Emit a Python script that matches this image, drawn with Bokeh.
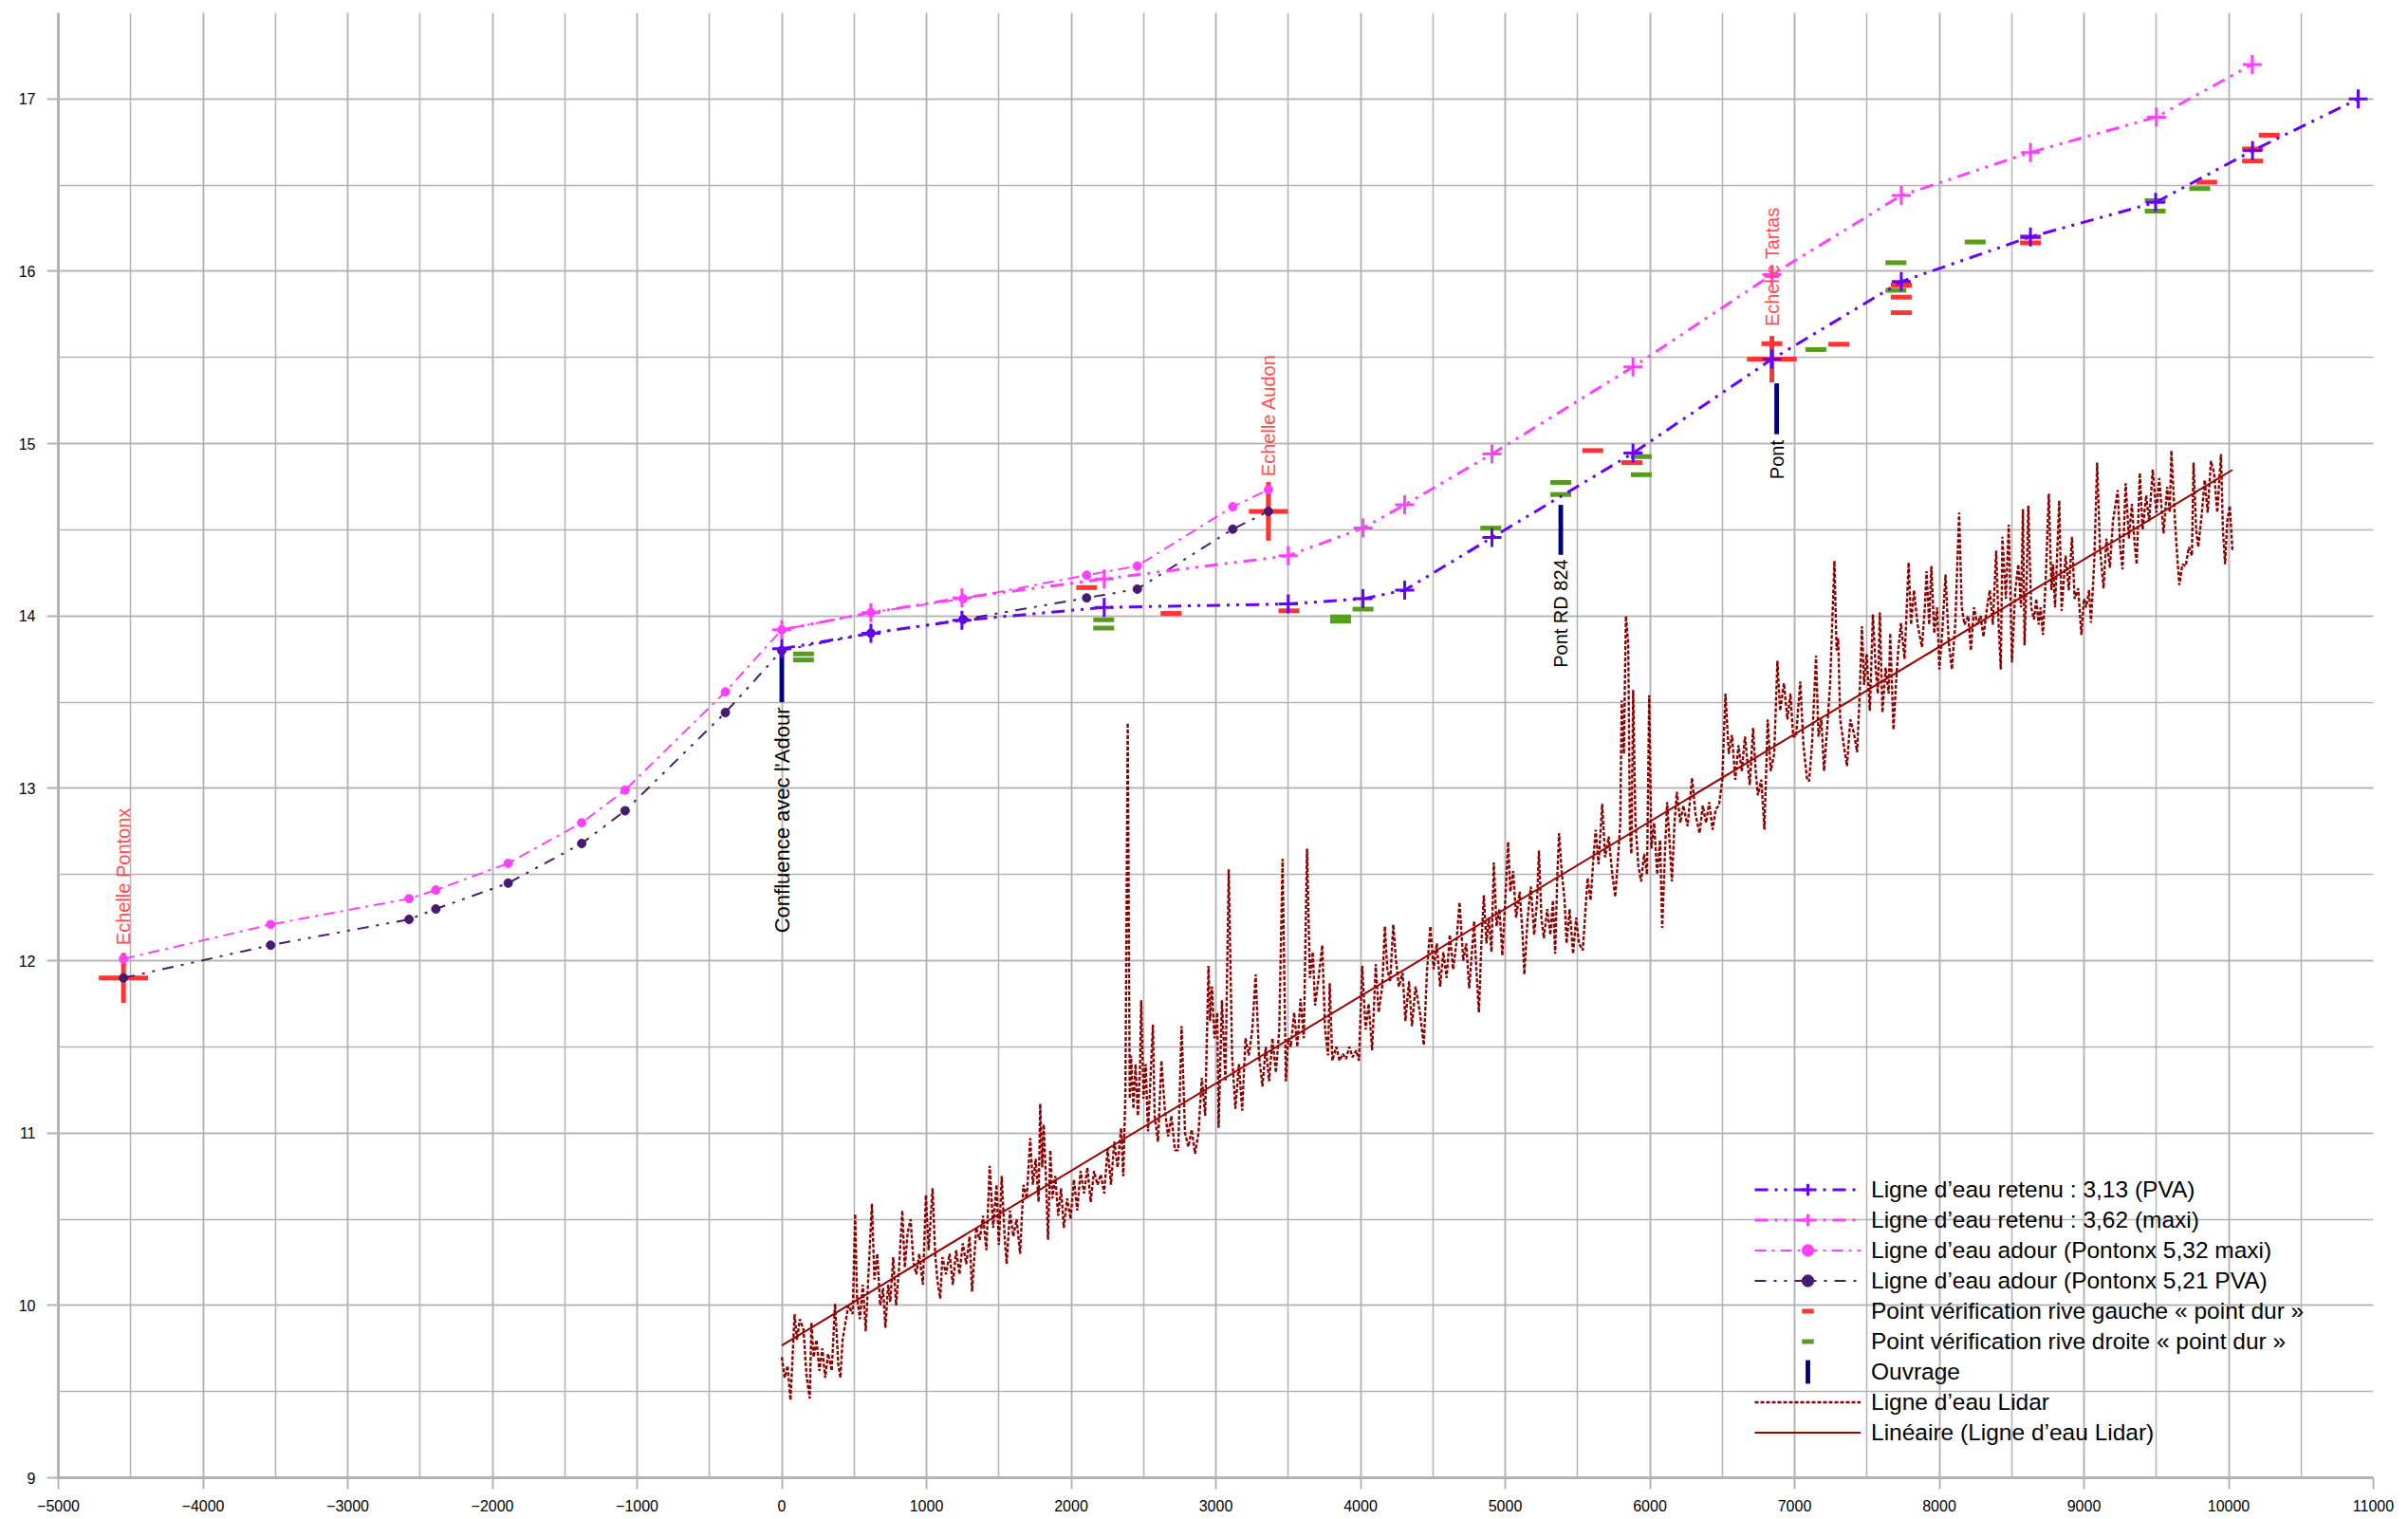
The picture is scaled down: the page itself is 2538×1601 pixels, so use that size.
import numpy as np
from bokeh.plotting import figure
from bokeh.models import Range1d, SingleIntervalTicker, Legend, LegendItem, ColumnDataSource
from bokeh.core.properties import value
from bokeh.embed import file_html
from bokeh.resources import INLINE

FONT = "Liberation Sans"

# ---------------- data ----------------
retenu_pva_x = [0, 616, 1245, 2228, 3500, 4017, 4305, 4908, 5883, 6843, 7737, 8630, 9495, 10165, 10895]
retenu_pva_y = [13.81, 13.90, 13.975, 14.05, 14.07, 14.10, 14.15, 14.455, 14.945, 15.49, 15.94, 16.20, 16.40, 16.70, 17.0]

retenu_maxi_x = [0, 616, 1245, 2228, 3500, 4017, 4305, 4908, 5883, 6843, 7737, 8630, 9500, 10163]
retenu_maxi_y = [13.92, 14.02, 14.105, 14.215, 14.35, 14.51, 14.645, 14.94, 15.445, 15.98, 16.44, 16.69, 16.895, 17.2]

adour_x = [-4550, -3533, -2576, -2391, -1891, -1383, -1083, -390, 0, 616, 1253, 2107, 2457, 3117, 3363]
adour_maxi_y = [12.01, 12.21, 12.36, 12.41, 12.565, 12.80, 12.99, 13.56, 13.92, 14.02, 14.10, 14.237, 14.29, 14.634, 14.733]
adour_pva_y = [11.90, 12.09, 12.24, 12.30, 12.45, 12.68, 12.87, 13.44, 13.80, 13.90, 13.98, 14.105, 14.156, 14.504, 14.607]

gauche_x = [2107, 2690, 3505, 5605, 5875, 6843, 7305, 7737, 7737, 7737, 8630, 8630, 9848, 10165, 10165, 10280]
gauche_y = [14.165, 14.015, 14.03, 14.96, 14.89, 15.58, 15.577, 15.92, 15.85, 15.76, 16.20, 16.165, 16.517, 16.71, 16.64, 16.79]

droite_x = [150, 150, 2225, 2225, 3862, 3862, 4017, 4900, 5384, 5384, 5940, 5940, 7147, 7700, 7700, 8248, 9492, 9492, 9800]
droite_y = [13.78, 13.745, 13.978, 13.93, 13.995, 13.97, 14.04, 14.51, 14.775, 14.705, 14.925, 14.82, 15.546, 16.05, 15.89, 16.17, 16.41, 16.35, 16.48]

ouvrage_x = [0, 5384, 6876]
ouvrage_bottom = [13.50, 14.355, 15.055]
ouvrage_top = [13.81, 14.645, 15.35]
ouvrage_labels = ["Confluence avec l'Adour", "Pont RD 824", "Pont"]
ouvrage_label_y = [13.47, 14.33, 15.02]
ouvrage_label_size = ["22px", "20px", "20px"]

echelle_x = [-4550, 3363, 6843]
echelle_y = [11.90, 14.607, 15.49]
echelle_dx = [170, 135, 172]
echelle_dy = [0.145, 0.17, 0.135]
echelle_labels = ["Echelle Pontonx", "Echelle Audon", "Echelle Tartas"]
echelle_label_y = [12.09, 14.81, 15.68]

lidar_x = [
    0, 20, 40, 60, 70, 88, 105, 125, 150, 170, 193, 205, 220, 240, 260, 280, 300, 320, 345, 368,
    390, 405, 420, 440, 460, 490, 507, 520, 540, 560, 580, 600, 623, 640, 660, 680, 700, 716, 735, 750,
    770, 790, 809, 833, 850, 870, 890, 910, 930, 950, 975, 996, 1015, 1042, 1060, 1075, 1095, 1110, 1135, 1160,
    1182, 1205, 1228, 1251, 1275, 1298, 1315, 1344, 1368, 1391, 1414, 1437, 1461, 1484, 1500, 1520, 1540, 1554, 1577, 1600,
    1623, 1647, 1670, 1693, 1717, 1735, 1755, 1775, 1786, 1800, 1810, 1825, 1840, 1856, 1870, 1890, 1910, 1930, 1949, 1972,
    1996, 2019, 2042, 2065, 2089, 2112, 2135, 2158, 2182, 2205, 2228, 2252, 2275, 2298, 2321, 2345, 2360, 2375, 2391, 2405,
    2414, 2430, 2445, 2461, 2475, 2484, 2500, 2515, 2531, 2550, 2565, 2577, 2600, 2624, 2647, 2670, 2693, 2717, 2740, 2763,
    2787, 2810, 2833, 2856, 2880, 2903, 2926, 2949, 2960, 2973, 2990, 3010, 3019, 3042, 3066, 3089, 3112, 3135, 3159, 3182,
    3205, 3228, 3252, 3275, 3298, 3322, 3345, 3368, 3391, 3415, 3438, 3461, 3484, 3500,
    3518, 3541, 3563, 3585, 3608, 3630, 3650, 3670, 3686, 3710, 3735, 3755, 3775, 3787, 3805, 3832, 3855, 3877, 3900, 3922,
    3945, 3970, 3989, 4011, 4035, 4056, 4080, 4105, 4125, 4150, 4168, 4185, 4205, 4226, 4245, 4265, 4291, 4310, 4335, 4355,
    4380, 4410, 4437, 4460, 4482, 4505, 4527, 4550, 4572, 4595, 4617, 4640, 4662, 4684, 4710, 4730, 4751, 4770, 4785, 4800,
    4818, 4835, 4852, 4870, 4886, 4905, 4921, 4940, 4960, 4980, 5000, 5020, 5035, 5055, 5075, 5100, 5120, 5132, 5155, 5177,
    5200, 5220, 5233, 5250, 5267, 5290, 5312, 5330, 5345, 5360, 5372, 5390, 5410, 5424, 5445, 5469, 5490, 5510, 5536, 5555,
    5569, 5590, 5610, 5625, 5645, 5670, 5690, 5715, 5740, 5760, 5780, 5795, 5805, 5820, 5834, 5850, 5862, 5872, 5884, 5900,
    5920, 5939, 5960, 5980, 5995, 6010, 6029, 6050, 6070, 6085, 6105, 6119, 6135, 6152, 6170, 6186, 6210, 6231, 6260, 6291,
    6315, 6343, 6365, 6388, 6410, 6433, 6455, 6477, 6500, 6522, 6545, 6567, 6590, 6612, 6635, 6657, 6690, 6713, 6730, 6746,
    6770, 6791, 6814, 6835, 6859, 6881, 6900, 6926, 6950, 6971, 6990,
    7010, 7039, 7061, 7085, 7100, 7120, 7148, 7165, 7185, 7203, 7225, 7245, 7275, 7290, 7301, 7315, 7340, 7362, 7385, 7410,
    7432, 7450, 7465, 7480, 7498, 7520, 7541, 7560, 7575, 7589, 7607, 7629, 7650, 7661, 7683, 7700, 7716, 7735, 7760, 7788,
    7805, 7825, 7850, 7880, 7900, 7912, 7930, 7945, 7965, 7985, 8000, 8020, 8043, 8065, 8087, 8110, 8137, 8155, 8174, 8200,
    8218, 8240, 8262, 8285, 8305, 8330, 8349, 8370, 8393, 8410, 8425, 8436, 8460, 8480, 8502, 8525, 8546, 8565, 8578, 8589,
    8605, 8615, 8635, 8655, 8670, 8687, 8700, 8716, 8735, 8757, 8775, 8786, 8800, 8829, 8845, 8873, 8895, 8917, 8935, 8960,
    8982, 9000, 9015, 9035, 9048, 9070, 9091, 9110, 9135, 9155, 9179, 9200, 9233, 9250, 9266, 9288, 9310, 9331, 9350, 9364,
    9386, 9405, 9430, 9450, 9475, 9500, 9520, 9550, 9575, 9593, 9604, 9626, 9640, 9659, 9680, 9703, 9725, 9746, 9757, 9775,
    9790, 9815, 9834, 9855, 9877, 9899, 9921, 9947, 9960, 9975, 9990, 10008, 10026,
]
lidar_y = [
    9.70, 9.58, 9.65, 9.45, 9.62, 9.95, 9.80, 9.92, 9.86, 9.60, 9.46, 9.90, 9.70, 9.80, 9.62, 9.75, 9.58, 9.72, 9.62, 10.01,
    9.66, 9.58, 9.80, 9.90, 10.00, 9.95, 10.53, 10.05, 9.92, 10.12, 9.85, 10.20, 10.59, 10.15, 10.30, 10.00, 10.10, 9.87, 10.12, 10.02,
    10.28, 10.00, 10.20, 10.55, 10.22, 10.42, 10.50, 10.25, 10.18, 10.30, 10.12, 10.64, 10.32, 10.68, 10.30, 10.15, 10.04, 10.28, 10.18, 10.30,
    10.12, 10.32, 10.18, 10.36, 10.24, 10.40, 10.08, 10.45, 10.38, 10.52, 10.32, 10.81, 10.45, 10.70, 10.35, 10.75, 10.40, 10.24, 10.55, 10.40,
    10.50, 10.30, 10.70, 10.62, 10.97, 10.70, 10.85, 10.60, 11.17, 10.80, 11.05, 10.75, 10.38, 10.90, 10.62, 10.75, 10.52, 10.68, 10.45, 10.62,
    10.50, 10.73, 10.55, 10.78, 10.65, 10.80, 10.60, 10.78, 10.70, 10.76, 10.65, 10.91, 10.70, 10.95, 10.80, 11.03, 10.75, 11.24, 13.38, 11.20,
    11.45, 11.14, 11.40, 11.10, 11.35, 11.77, 11.20, 11.40, 11.01, 11.35, 11.63, 11.10, 10.95, 11.42, 11.14, 10.98, 11.10, 10.90, 10.90, 11.62,
    11.00, 10.92, 11.02, 10.88, 11.00, 11.32, 11.10, 11.97, 11.65, 11.85, 11.55, 11.70, 11.03, 11.77, 11.30, 12.53, 11.45, 11.14, 11.40, 11.13,
    11.55, 11.45, 11.60, 11.92, 11.45, 11.27, 11.50, 11.30, 11.55, 11.35, 11.60, 12.59, 11.30, 11.55,
    11.50, 11.70, 11.50, 11.78, 11.55, 12.65, 11.90, 12.05, 11.74, 11.90, 12.09, 11.60, 11.45, 11.87, 11.42, 11.50, 11.42, 11.46, 11.43, 11.50,
    11.44, 11.48, 11.42, 11.97, 11.60, 11.75, 11.48, 11.98, 11.70, 11.85, 12.20, 11.95, 11.88, 12.21, 12.00, 11.85, 11.93, 11.65, 11.88, 11.62,
    11.85, 11.70, 11.51, 11.95, 12.20, 11.95, 12.10, 11.85, 12.05, 11.90, 12.15, 11.95, 12.10, 12.34, 12.00, 12.10, 11.84, 12.05, 12.23, 11.95,
    11.70, 12.10, 12.38, 12.10, 12.25, 12.05, 12.57, 12.20, 12.30, 12.03, 12.35, 12.69, 12.40, 12.52, 12.25, 12.40, 12.15, 11.92, 12.25, 12.43,
    12.15, 12.35, 12.64, 12.25, 12.13, 12.30, 12.15, 12.35, 12.04, 12.50, 12.74, 12.52, 12.35, 12.10, 12.30, 12.04, 12.25, 12.10, 12.06, 12.30,
    12.48, 12.35, 12.60, 12.76, 12.56, 12.91, 12.60, 12.72, 12.50, 12.37, 12.60, 12.80, 13.51, 13.20, 14.00, 13.84, 12.75, 12.62, 13.57, 12.80,
    12.55, 12.46, 12.62, 12.50, 13.54, 12.65, 12.80, 12.50, 12.70, 12.19, 12.65, 12.92, 12.70, 12.46, 12.80, 12.98, 12.80, 12.90, 12.78, 13.06,
    12.85, 12.74, 12.90, 12.80, 12.92, 12.76, 12.88, 12.90, 13.05, 13.55, 13.20, 13.31, 13.05, 13.25, 13.10, 13.30, 13.02, 13.35, 13.11, 12.96,
    13.05, 12.76, 13.40, 13.10, 13.20, 13.74, 13.45, 13.61, 13.40, 13.55, 13.30,
    13.30, 13.62, 13.25, 13.06, 13.04, 13.25, 13.77, 13.30, 13.40, 13.10, 13.35, 13.60, 14.32, 13.80, 13.87, 13.40, 13.25, 13.13, 13.40, 13.32,
    13.21, 13.55, 13.94, 13.60, 13.78, 13.45, 14.01, 13.70, 13.55, 14.02, 13.44, 13.70, 13.55, 13.90, 13.34, 13.60, 13.80, 13.96, 13.75, 14.31,
    13.95, 14.15, 13.95, 13.82, 14.05, 14.26, 13.95, 14.29, 13.90, 14.05, 13.69, 13.90, 14.24, 13.85, 13.69, 13.95, 14.60, 14.05, 13.95, 14.00,
    13.80, 14.05, 13.95, 14.00, 13.88, 14.05, 14.15, 13.95, 14.38, 13.95, 13.69, 14.46, 14.10, 14.53, 13.73, 14.15, 14.30, 14.05, 14.62, 13.83,
    14.25, 14.64, 14.05, 13.98, 14.10, 13.95, 14.05, 13.89, 14.20, 14.71, 14.15, 14.30, 14.05, 14.67, 14.03, 14.35, 14.15, 14.46, 14.10, 14.16,
    13.89, 14.10, 14.05, 14.15, 13.96, 14.30, 14.89, 14.40, 14.16, 14.45, 14.28, 14.55, 14.73, 14.40, 14.27, 14.77, 14.45, 14.65, 14.42, 14.30,
    14.83, 14.50, 14.70, 14.55, 14.85, 14.60, 14.80, 14.48, 14.75, 14.60, 14.96, 14.60, 14.40, 14.18, 14.30, 14.29, 14.40, 14.35, 14.89, 14.50,
    14.40, 14.60, 14.79, 14.60, 14.90, 14.83, 14.60, 14.94, 14.50, 14.30, 14.55, 14.64, 14.38,
]

x_ticks_interval = 1000
y_ticks_interval = 1

# ---------------- colours ----------------
C_PVA = "#6600ff"
C_MAXI = "#ff40ff"
C_ADOUR_PVA = "#461a6e"
C_RED = "#ff3333"
C_GREEN = "#579d1c"
C_NAVY = "#000080"
C_LIDAR = "#8b0000"
C_GRID = "#b3b3b3"

W, H = 2538, 1601
p = figure(width=W, height=H,
           x_range=Range1d(-5000, 11000), y_range=Range1d(9, 17.5),
           output_backend="svg", toolbar_location=None,
           min_border_left=61, min_border_right=W - 2501, min_border_top=13, min_border_bottom=H - 1557)
p.outline_line_color = None
p.background_fill_color = "white"
p.border_fill_color = "white"

xt = SingleIntervalTicker(interval=x_ticks_interval, num_minor_ticks=2)
yt = SingleIntervalTicker(interval=y_ticks_interval, num_minor_ticks=2)
p.xaxis.ticker = xt
p.yaxis.ticker = yt
p.xgrid.ticker = xt
p.ygrid.ticker = yt
for g in (p.xgrid, p.ygrid):
    g.grid_line_color = C_GRID
    g.grid_line_width = 1.5
    g.minor_grid_line_color = C_GRID
    g.minor_grid_line_width = 1.5
for ax in (p.xaxis, p.yaxis):
    ax.axis_line_color = C_GRID
    ax.axis_line_width = 3
    ax.major_tick_line_color = C_GRID
    ax.major_tick_line_width = 2
    ax.major_tick_out = 12
    ax.major_tick_in = 0
    ax.minor_tick_out = 0
    ax.minor_tick_in = 0
    ax.major_label_text_font = FONT
    ax.major_label_text_font_size = "16px"
    ax.major_label_text_color = "black"
p.xaxis.major_label_standoff = 11
p.yaxis.major_label_standoff = 12

# Lidar + linear trend
r_lidar = p.line(lidar_x, lidar_y, line_color=C_LIDAR, line_width=2.4, line_dash="4 2")
coef = np.polyfit(lidar_x, lidar_y, 1)
tx = [min(lidar_x), max(lidar_x)]
ty = list(np.polyval(coef, tx))
r_trend = p.line(tx, ty, line_color="#990000", line_width=2)

# Echelle crosses
es = ColumnDataSource(dict(
    x=echelle_x, y=echelle_y,
    x0=[a - b for a, b in zip(echelle_x, echelle_dx)], x1=[a + b for a, b in zip(echelle_x, echelle_dx)],
    y0=[a - b for a, b in zip(echelle_y, echelle_dy)], y1=[a + b for a, b in zip(echelle_y, echelle_dy)],
))
p.segment(x0="x0", y0="y", x1="x1", y1="y", source=es, line_color=C_RED, line_width=5)
p.segment(x0="x", y0="y0", x1="x", y1="y1", source=es, line_color=C_RED, line_width=5)

# Ouvrage bars
r_ouv = p.vbar(x=ouvrage_x, width=32, top=ouvrage_top, bottom=ouvrage_bottom,
               fill_color=C_NAVY, line_color=None)

# Verification points
r_g = p.scatter(gauche_x, gauche_y, marker="dash", size=22, line_color=C_RED, line_width=5)
r_d = p.scatter(droite_x, droite_y, marker="dash", size=22, line_color=C_GREEN, line_width=5)

# Adour lines
r_ap_l = p.line(adour_x, adour_pva_y, line_color=C_ADOUR_PVA, line_width=2, line_dash="12 8 3 8 3 8")
r_ap_m = p.scatter(adour_x, adour_pva_y, marker="circle", size=9, fill_color=C_ADOUR_PVA, line_color=C_ADOUR_PVA)
r_am_l = p.line(adour_x, adour_maxi_y, line_color=C_MAXI, line_width=2, line_dash="12 6 3 6")
r_am_m = p.scatter(adour_x, adour_maxi_y, marker="circle", size=9, fill_color=C_MAXI, line_color=C_MAXI)

# Retenu lines
r_rm_l = p.line(retenu_maxi_x, retenu_maxi_y, line_color=C_MAXI, line_width=3, line_dash="14 7 3 7 3 7")
r_rm_m = p.scatter(retenu_maxi_x, retenu_maxi_y, marker="cross", size=20, line_color=C_MAXI, line_width=3)
r_rp_l = p.line(retenu_pva_x, retenu_pva_y, line_color=C_PVA, line_width=3, line_dash="14 7 3 7 3 7")
r_rp_m = p.scatter(retenu_pva_x, retenu_pva_y, marker="cross", size=20, line_color=C_PVA, line_width=3)

# Labels
p.text(x=echelle_x, y=echelle_label_y, text=echelle_labels, angle=np.pi / 2,
       text_font=value(FONT), text_font_size="20px", text_color="#ff4d4d",
       text_align="left", text_baseline="middle")
ols = ColumnDataSource(dict(x=ouvrage_x, y=ouvrage_label_y, t=ouvrage_labels, fs=ouvrage_label_size))
p.text(x="x", y="y", text="t", text_font_size="fs", source=ols, angle=np.pi / 2,
       text_font=value(FONT), text_color="black",
       text_align="right", text_baseline="middle")


def make_legend(items, loc, gw):
    lg = Legend(items=items, location=loc)
    lg.label_text_font = FONT
    lg.label_text_font_size = "24.5px"
    lg.label_text_color = "black"
    lg.glyph_width = gw
    lg.glyph_height = 31
    lg.label_height = 31
    lg.label_standoff = 11 + (112 - gw) // 2
    lg.spacing = 1
    lg.padding = 0
    lg.margin = 0
    lg.border_line_color = None
    lg.background_fill_alpha = 0
    lg.label_text_baseline = "middle"
    return lg


LX = 1788
leg1 = make_legend([
    LegendItem(label="Ligne d\u2019eau retenu : 3,13 (PVA)", renderers=[r_rp_l, r_rp_m]),
    LegendItem(label="Ligne d\u2019eau retenu : 3,62 (maxi)", renderers=[r_rm_l, r_rm_m]),
    LegendItem(label="Ligne d\u2019eau adour (Pontonx 5,32 maxi)", renderers=[r_am_l, r_am_m]),
    LegendItem(label="Ligne d\u2019eau adour (Pontonx 5,21 PVA)", renderers=[r_ap_l, r_ap_m]),
    LegendItem(label="Point vérification rive gauche « point dur »", renderers=[r_g]),
    LegendItem(label="Point vérification rive droite « point dur »", renderers=[r_d]),
], (LX, 128), 112)
leg2 = make_legend([LegendItem(label="Ouvrage", renderers=[r_ouv])], (LX + 53, 96), 6)
leg3 = make_legend([
    LegendItem(label="Ligne d\u2019eau Lidar", renderers=[r_lidar]),
    LegendItem(label="Linéaire (Ligne d\u2019eau Lidar)", renderers=[r_trend]),
], (LX, 32), 112)
for lg in (leg1, leg2, leg3):
    p.add_layout(lg)

open("out.html", "w").write(file_html(p, INLINE))
